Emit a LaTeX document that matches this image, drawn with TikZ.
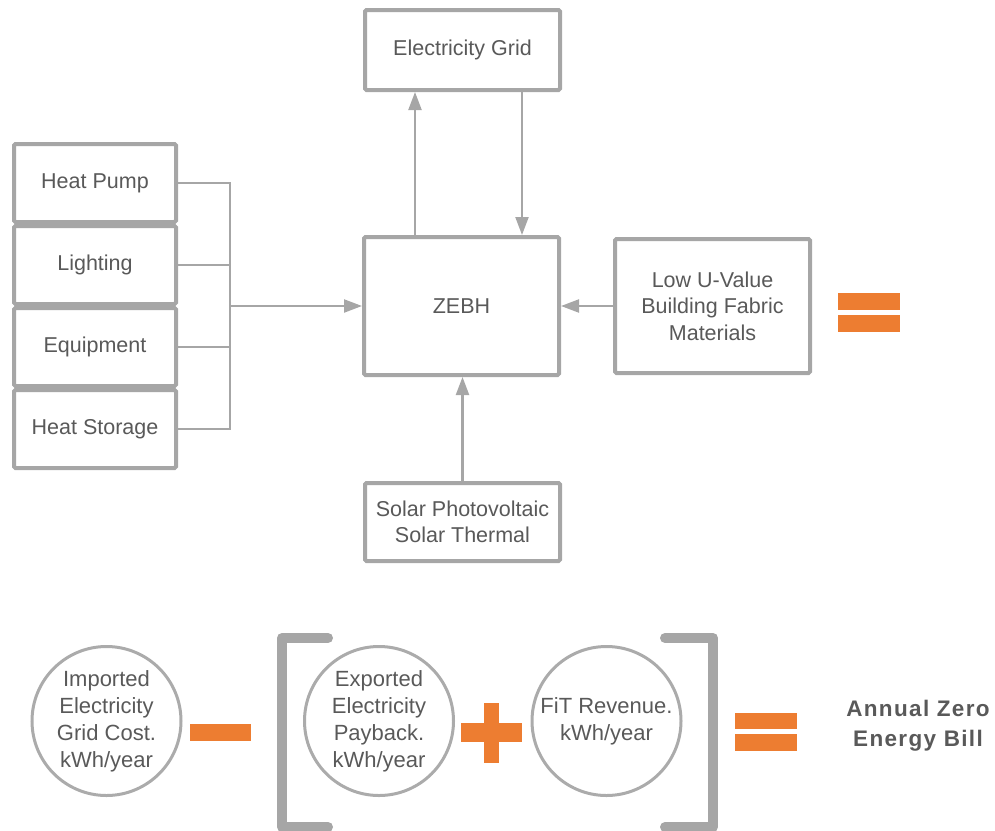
\documentclass[tikz,border=0pt]{standalone}
\usepackage{fontspec}
\setmainfont{Liberation Sans}
\usetikzlibrary{arrows.meta}
\definecolor{linegray}{HTML}{A6A6A6}
\definecolor{ringgray}{HTML}{ABABAB}
\definecolor{txtgray}{HTML}{595959}
\definecolor{accent}{HTML}{ED7D31}
\newcommand{\boxfont}{\fontsize{21.5}{26.5}\selectfont}
\newcommand{\ringfont}{\fontsize{22}{27}\selectfont}
\tikzset{
  blockbox/.style={draw=linegray, line width=4pt, rounded corners=1.5pt, fill=white,
    text=txtgray, align=center, font=\boxfont, inner sep=0pt},
  stackbox/.style={blockbox, minimum width=162pt, minimum height=78pt},
  widebox/.style={blockbox, minimum width=195pt},
  ring/.style={circle, draw=ringgray, line width=3pt, minimum size=149pt, inner sep=0pt,
    text=txtgray, align=center, font=\ringfont},
  link/.style={draw=linegray, line width=2.2pt},
  arr/.style={link, -{Triangle[length=18pt, width=13pt]}},
  brace/.style={draw=linegray, line width=10pt, line cap=round, line join=round},
  sign/.style={fill=accent}
}
\begin{document}
\begin{tikzpicture}[x=1pt, y=-1pt]
\useasboundingbox (0,0) rectangle (995,830);

% energy demand stack
\node[stackbox] (hp)  at (95,183) {Heat Pump};
\node[stackbox] (lt)  at (95,265) {Lighting};
\node[stackbox] (eq)  at (95,347) {Equipment};
\node[stackbox] (hs)  at (95,429) {Heat Storage};

% central house and its neighbours
\node[widebox, minimum height=138pt] (zebh) at (461.5,306) {ZEBH};
\node[widebox, minimum height=80pt] (grid) at (462.5,50) {Electricity Grid};
\node[widebox, minimum height=78pt] (solar) at (462.5,522) {Solar Photovoltaic\\Solar Thermal};
\node[widebox, minimum height=134pt] (lowu) at (712.5,306) {Low U-Value\\Building Fabric\\Materials};

% demand bus into the house
\coordinate (bus) at (230,306);
\draw[link] (hp.east) -| (bus);
\draw[link] (lt.east) -| (bus);
\draw[link] (eq.east) -| (bus);
\draw[link] (hs.east) -| (bus);
\draw[arr] (bus) -- (zebh.west);

% grid exchange
\draw[arr] ([xshift=-46.5pt]zebh.north) -- ([xshift=-47.5pt]grid.south);
\draw[arr] ([xshift=59.5pt]grid.south) -- ([xshift=60.5pt]zebh.north);

% renewables and fabric
\draw[arr] (solar.north) -- (solar.north |- zebh.south);
\draw[arr] (lowu.west) -- (zebh.east);

% equals sign beside the fabric box
\fill[sign] (838,293) rectangle (900,310);
\fill[sign] (838,315) rectangle (900,332);

% bill equation
\node[ring] (imp) at (106.5,721) {Imported\\Electricity\\Grid Cost.\\kWh/year};
\node[ring] (exp) at (379,721) {Exported\\Electricity\\Payback.\\kWh/year};
\node[ring] (fit) at (606.5,721) {FiT Revenue.\\kWh/year};

% minus
\fill[sign] (190,724) rectangle (251,741);
% plus
\fill[sign] (461,723) rectangle (522,742);
\fill[sign] (484,703) rectangle (499,763);

% brackets
\draw[brace] (328,638) -- (282,638) -- (282,827) -- (328,827);
\draw[brace] (665,638) -- (713,638) -- (713,827) -- (665,827);

% result equals sign
\fill[sign] (735,713) rectangle (797,729);
\fill[sign] (735,734) rectangle (797,751);

\node[text=txtgray, align=center,
  font={\fontsize{22.5}{30}\selectfont\bfseries\addfontfeatures{LetterSpace=6}}]
  (bill) at (918,726) {Annual Zero\\Energy Bill};
\end{tikzpicture}
\end{document}
